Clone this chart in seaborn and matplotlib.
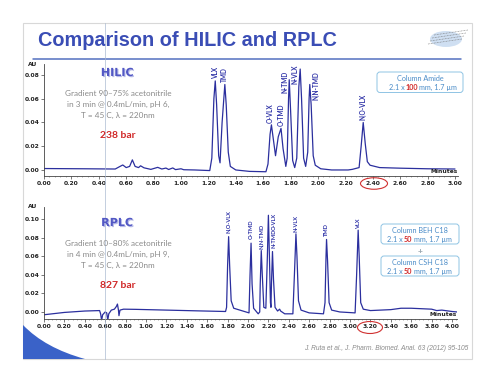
import numpy as np
import pandas as pd
import matplotlib
matplotlib.use('Agg')
import matplotlib.pyplot as plt
import matplotlib.patheffects as pe
from matplotlib.patches import FancyBboxPatch, Ellipse, PathPatch, Rectangle
from matplotlib.path import Path
from matplotlib.ticker import MultipleLocator, FixedLocator
import seaborn as sns

# ---- data ----
hilic_t = [0.00, 0.30, 0.52, 0.555, 0.575, 0.60, 0.625, 0.645, 0.665, 0.69, 0.705, 0.73, 0.78,
           0.83, 0.86, 0.89, 0.91, 0.94, 0.96, 1.00, 1.02, 1.10, 1.21, 1.225, 1.24, 1.25, 1.26,
           1.275, 1.285, 1.30, 1.32, 1.33, 1.345, 1.36, 1.40, 1.50, 1.62, 1.635, 1.65, 1.66,
           1.675, 1.69, 1.71, 1.73, 1.745, 1.765, 1.775, 1.785, 1.79, 1.80, 1.815, 1.83, 1.845,
           1.86, 1.87, 1.88, 1.895, 1.91, 1.925, 1.935, 1.94, 1.95, 1.965, 1.98, 2.02, 2.10,
           2.22, 2.25, 2.30, 2.315, 2.33, 2.345, 2.36, 2.38, 2.45, 2.60, 2.80, 3.00]
hilic_au = [0.0012, 0.0010, 0.0008, 0.0030, 0.0042, 0.0020, 0.0030, 0.0085, 0.0030, 0.0020,
            0.0035, 0.0018, 0.0005, 0.0022, 0.0008, 0.0016, 0.0004, 0.0017, 0.0003, 0.0010,
            0.0002, 0.0000, -0.0005, 0.010, 0.060, 0.075, 0.055, 0.012, 0.006, 0.040, 0.072,
            0.055, 0.015, 0.003, 0.000, -0.0012, -0.0015, 0.005, 0.030, 0.038, 0.025, 0.012,
            0.028, 0.035, 0.018, 0.003, 0.010, 0.060, 0.076, 0.050, 0.008, 0.002, 0.010, 0.070,
            0.085, 0.060, 0.010, 0.003, 0.015, 0.060, 0.072, 0.055, 0.012, 0.004, 0.001, 0.000,
            0.000, 0.0005, 0.002, 0.020, 0.040, 0.022, 0.007, 0.004, 0.002, 0.0015, 0.0010, 0.0008]
hilic_peaks = ['VLX', 'TMD', 'O-VLX', 'O-TMD', 'N-TMD', 'N-VLX', 'N,N-TMD', 'N,O-VLX']
hilic_peak_t = [1.25, 1.32, 1.66, 1.73, 1.79, 1.87, 1.94, 2.33]
hilic_peak_au = [0.075, 0.072, 0.038, 0.035, 0.076, 0.085, 0.072, 0.040]

rplc_t = [0.00, 0.20, 0.40, 0.545, 0.555, 0.565, 0.575, 0.60, 0.615, 0.625, 0.635, 0.66, 0.69,
          0.71, 0.72, 0.73, 0.735, 0.745, 0.78, 0.90, 1.20, 1.50, 1.78, 1.79, 1.80, 1.81, 1.82,
          1.835, 1.86, 1.95, 2.01, 2.02, 2.03, 2.04, 2.055, 2.10, 2.115, 2.12, 2.13, 2.14, 2.155,
          2.175, 2.19, 2.20, 2.21, 2.22, 2.225, 2.23, 2.24, 2.25, 2.265, 2.29, 2.31, 2.32, 2.36,
          2.44, 2.455, 2.47, 2.48, 2.495, 2.52, 2.60, 2.74, 2.755, 2.765, 2.77, 2.78, 2.795, 2.82,
          2.90, 3.05, 3.065, 3.08, 3.09, 3.105, 3.13, 3.20, 3.30, 3.40, 3.50, 3.60, 3.70, 3.80,
          3.85, 3.90, 4.00, 4.05]
rplc_au = [-0.003, -0.0005, 0.001, 0.0015, -0.002, -0.009, -0.003, 0.000, -0.001, -0.009, -0.002,
           0.002, 0.003, 0.006, 0.0085, 0.002, -0.004, 0.002, 0.003, 0.0028, 0.002, 0.0012, 0.0005,
           0.005, 0.050, 0.081, 0.050, 0.012, 0.004, 0.001, -0.001, 0.040, 0.074, 0.030, 0.004,
           -0.002, 0.000, 0.030, 0.066, 0.040, 0.005, 0.004, 0.060, 0.104, 0.060, 0.010, 0.005,
           0.030, 0.065, 0.035, 0.005, 0.001, 0.003, 0.001, -0.002, -0.002, 0.040, 0.084, 0.060,
           0.012, 0.002, -0.001, -0.002, 0.010, 0.060, 0.078, 0.055, 0.010, 0.002, 0.000, -0.001,
           0.040, 0.088, 0.060, 0.010, 0.003, 0.0015, 0.002, 0.0025, 0.004, 0.004, 0.0035, 0.003,
           0.0015, 0.002, 0.0005, 0.000]
rplc_peaks = ['N,O-VLX', 'O-TMD', 'N,N-TMD', 'N-TMD', 'N-VLX', 'TMD', 'VLX']
rplc_peak_t = [1.81, 2.03, 2.13, 2.24, 2.47, 2.77, 3.08]
rplc_peak_au = [0.081, 0.074, 0.066, 0.065, 0.084, 0.078, 0.088]

hilic_xticks = [0.00, 0.20, 0.40, 0.60, 0.80, 1.00, 1.20, 1.40, 1.60, 1.80, 2.00, 2.20, 2.40, 2.60, 2.80, 3.00]
hilic_yticks = [0.00, 0.02, 0.04, 0.06, 0.08]
rplc_xticks = [0.00, 0.20, 0.40, 0.60, 0.80, 1.00, 1.20, 1.40, 1.60, 1.80, 2.00, 2.20, 2.40, 2.60,
               2.80, 3.00, 3.20, 3.40, 3.60, 3.80, 4.00]
rplc_yticks = [0.00, 0.02, 0.04, 0.06, 0.08, 0.10]

hilic = pd.DataFrame({'t': hilic_t, 'au': hilic_au})
rplc = pd.DataFrame({'t': rplc_t, 'au': rplc_au})

sns.set_style('white')
plt.rcParams['font.family'] = ['Lato', 'DejaVu Sans']

W, H = 494, 382
fig = plt.figure(figsize=(W / 100, H / 100), dpi=100)
fig.patch.set_facecolor('white')

def px_axes(l, t, r, b):
    return fig.add_axes([l / W, 1 - b / H, (r - l) / W, (b - t) / H])

# background overlay in pixel coordinates
back = px_axes(0, 0, W, H)
back.set_xlim(0, W)
back.set_ylim(H, 0)
back.axis('off')
back.add_patch(Rectangle((22.5, 22.5), 449, 336, fill=False, ec='#d8d8d8', lw=0.8))
corner = Path([(23, 325), (45, 348), (85, 359), (23, 359), (23, 325)],
              [Path.MOVETO, Path.CURVE3, Path.CURVE3, Path.LINETO, Path.CLOSEPOLY])
back.add_patch(PathPatch(corner, fc='#3a62c8', ec='none'))
back.text(38, 41, 'Comparison of HILIC and RPLC', fontsize=14.3, fontweight='bold',
          color='#3a4db5', family=['Liberation Sans', 'DejaVu Sans'], va='center', ha='left')
back.plot([33, 461], [59, 59], color='#5470c0', lw=1.1)
# small logo
back.add_patch(Ellipse((446, 39), 32, 16, fc='#c4d8ef', ec='none', alpha=0.8))
for k in range(4):
    back.plot([428 + 2 * k, 462 + 2 * k], [44 - 3 * k, 33 - 3 * k + 6], color='#707070', lw=0.5,
              ls=(0, (1, 1.2)))

TRACE = '#2b2f9e'
LBL = '#3034a8'

def style_axes(ax, xticks, yticks, xmax, ylim):
    ax.set_facecolor('none')
    ax.set_xlim(0, xmax)
    ax.set_ylim(*ylim)
    ax.xaxis.set_major_locator(FixedLocator(xticks))
    ax.yaxis.set_major_locator(FixedLocator(yticks))
    ax.xaxis.set_minor_locator(MultipleLocator(0.04))
    ax.set_xticklabels([f'{v:.2f}' for v in xticks])
    ax.set_yticklabels([f'{v:.2f}' for v in yticks])
    for s in ['top', 'right']:
        ax.spines[s].set_visible(False)
    for s in ['left', 'bottom']:
        ax.spines[s].set_color('#444444')
        ax.spines[s].set_linewidth(0.6)
    ax.tick_params(axis='both', which='major', labelsize=4.3, length=2, width=0.5,
                   color='#444444', labelcolor='#222222', pad=1.5, left=True, bottom=True)
    ax.tick_params(axis='x', which='minor', length=1, width=0.4, color='#666666', bottom=True)
    plt.setp(ax.get_xticklabels() + ax.get_yticklabels(), fontweight='bold',
             family=['DejaVu Sans'])
    ax.set_xlabel('')
    ax.set_ylabel('')
    ax.text(-0.027, 1.0, 'AU', transform=ax.transAxes, fontsize=4.3, fontweight='bold',
            ha='center', va='center', family='DejaVu Sans', color='#222222')
    ax.text(1.0, 0.02, 'Minutes', transform=ax.transAxes, fontsize=4.3, fontweight='bold',
            ha='right', va='bottom', family='DejaVu Sans', color='#222222')

def peak_labels(ax, names, times, heights, offsets, size):
    for name, t, h in zip(names, times, heights):
        dx, dy = offsets.get(name, (0, 1.5))
        ax.annotate(name, (t, h), xytext=(dx, dy), textcoords='offset points',
                    rotation=90, ha='center', va='bottom', fontsize=size, fontweight='bold',
                    color=LBL, annotation_clip=False)

# ---- HILIC chromatogram ----
ax1 = px_axes(44, 64.3, 44 + 3.02 * 137, 175.9)
sns.lineplot(data=hilic, x='t', y='au', ax=ax1, color=TRACE, lw=0.9, estimator=None)
style_axes(ax1, hilic_xticks, hilic_yticks, 3.02, (-0.005, 0.089))
peak_labels(ax1, hilic_peaks, hilic_peak_t, hilic_peak_au,
            {'VLX': (0, 1.5), 'TMD': (0, 1.5), 'O-VLX': (-0.5, 1.5), 'O-TMD': (0, 1.5),
             'N-TMD': (-3.2, -9.5), 'N-VLX': (-3.4, -10.5), 'N,N-TMD': (4.6, -11.5),
             'N,O-VLX': (0, 1.5)}, 4.7)

# ---- RPLC chromatogram ----
ax2 = px_axes(44, 206.9, 44 + 4.05 * 102, 319.4)
sns.lineplot(data=rplc, x='t', y='au', ax=ax2, color=TRACE, lw=0.9, estimator=None)
style_axes(ax2, rplc_xticks, rplc_yticks, 4.05, (-0.008, 0.113))
peak_labels(ax2, rplc_peaks, rplc_peak_t, rplc_peak_au,
            {'N,O-VLX': (0, 2.5), 'O-TMD': (0, 2.8), 'N,N-TMD': (0, 1.0), 'N-TMD': (1.2, 2.6),
             'N-VLX': (0, 1.6), 'TMD': (0, 2.4), 'VLX': (0, 1.0)}, 4.1)
ax2.annotate('O-VLX', (2.24, 0.065), xytext=(1.2, 15.5), textcoords='offset points',
             rotation=90, ha='center', va='bottom', fontsize=4.1, fontweight='bold', color=LBL,
             annotation_clip=False)

# ---- slide texts (front overlay) ----
front = px_axes(0, 0, W, H)
front.set_xlim(0, W)
front.set_ylim(H, 0)
front.axis('off')

shadow = [pe.withSimplePatchShadow(offset=(0.8, -0.8), shadow_rgbFace='#b8bce8', alpha=1)]
GRAY = '#8a8a8a'
RED = '#d02828'
BOXC = '#4a8cc8'

for y0, head, lines, bar in [
        (73, 'HILIC', ['Gradient 90\u201375% acetonitrile', 'in 3 min @ 0.4mL/min, pH 6,',
                       'T = 45 C, \u03bb = 220nm'], '238 bar'),
        (223, 'RPLC', ['Gradient 10\u201380% acetonitrile', 'in 4 min @ 0.4mL/min, pH 9,',
                       'T = 45 C, \u03bb = 220nm'], '827 bar')]:
    front.text(117, y0, head, fontsize=8, fontweight='heavy', color='#5258c4', ha='center',
               va='center', family=['DejaVu Sans'], path_effects=shadow)
    for i, ln in enumerate(lines):
        front.text(118, y0 + 21 + 10.7 * i, ln, fontsize=5.85, color=GRAY, ha='center', va='center')
    front.text(118, y0 + 63, bar, fontsize=7.5, fontweight='bold', color=RED, ha='center',
               va='center')

def column_box(x0, y0, x1, y1, title, num, xr, xn, xl):
    front.add_patch(FancyBboxPatch((x0, y0), x1 - x0, y1 - y0, boxstyle='round,pad=0,rounding_size=3',
                                   fc='white', ec='#8fc4e4', lw=0.7))
    cx = (x0 + x1) / 2
    front.text(cx, y0 + 6.5, title, fontsize=5.2, color=BOXC, ha='center', va='center')
    yl = y0 + 15.5
    front.text(xr, yl, '2.1 x', fontsize=5.2, color=BOXC, ha='right', va='center')
    front.text(xn, yl, num, fontsize=5.2, color=RED, fontweight='bold', ha='center', va='center')
    front.text(xl, yl, 'mm, 1.7 \u00b5m', fontsize=5.2, color=BOXC, ha='left', va='center')

column_box(377, 72, 463, 92.5, 'Column Amide', '100', 405, 412, 419)
column_box(381, 224, 459, 244, 'Column BEH C18', '50', 402.5, 408, 413.5)
front.text(420, 251.5, '+', fontsize=6, color='#9aa8b0', ha='center', va='center', fontweight='bold')
column_box(381, 256, 459, 276, 'Column CSH C18', '50', 402.5, 408, 413.5)

# red circles around the end of the runs
front.add_patch(Ellipse((374, 183.5), 27, 11.5, fill=False, ec='#d03030', lw=0.8))
front.add_patch(Ellipse((370, 327.5), 25, 12, fill=False, ec='#d03030', lw=0.8))

# slide guide line
front.plot([105.3, 105.3], [22.5, 358.5], color='#a8b8d0', lw=0.6, alpha=0.8)

front.text(468, 348, 'J. Ruta et al., J. Pharm. Biomed. Anal. 63 (2012) 95-105', fontsize=4.75,
           style='italic', color='#8a8a8a', ha='right', va='center',
           family=['Liberation Sans', 'DejaVu Sans'])

fig.savefig('out.png', dpi=100)
